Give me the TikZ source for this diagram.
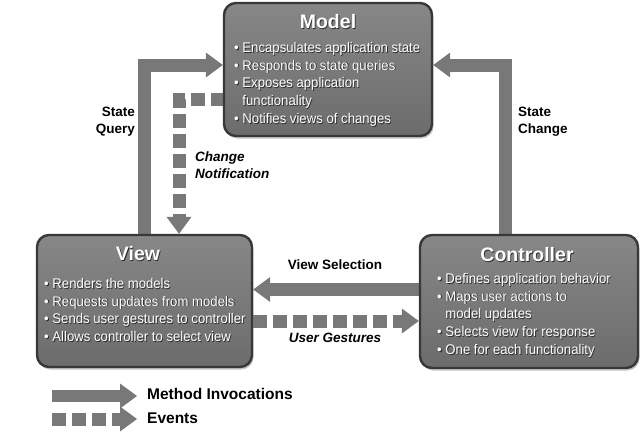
\documentclass[tikz,border=0pt]{standalone}
\usepackage{fontspec}
\setmainfont{Liberation Sans}
\newfontfamily\boxfont[FakeStretch=0.94]{Liberation Sans}
\usetikzlibrary{arrows.meta,shadows}
\definecolor{boxtop}{HTML}{878787}
\definecolor{boxbot}{HTML}{6C6C6C}
\definecolor{boxline}{HTML}{383838}
\definecolor{arrowgray}{HTML}{787878}
\definecolor{txtshadow}{HTML}{2A2A2A}
\newcommand\shd[1]{\makebox[0pt][l]{\hspace{0.8pt}\raisebox{-0.8pt}{\color{txtshadow}#1}}#1}
\pgfdeclarelayer{bg}
\pgfsetlayers{bg,main}
\begin{document}
\begin{tikzpicture}[x=1pt,y=-1pt,
  box/.style={draw=boxline, line width=2.4pt, rounded corners=12pt,
    top color=boxtop, bottom color=boxbot,
    drop shadow={shadow xshift=1.5pt,shadow yshift=-2.5pt,fill=black!45}},
  titletext/.style={font=\fontsize{19.5}{22}\selectfont\bfseries, text=white, inner sep=0pt},
  bullets/.style={font=\fontsize{14}{17.8}\boxfont, text=white, align=left, anchor=north west, inner sep=0pt},
  lbl/.style={font=\fontsize{13.5}{17}\selectfont\bfseries, text=black, inner sep=0pt},
  ital/.style={font=\fontsize{13.5}{17}\selectfont\bfseries\itshape},
  legendtext/.style={font=\fontsize{15.5}{18}\selectfont\bfseries, text=black, inner sep=0pt, anchor=west},
  method/.style={draw=arrowgray, line width=13pt, line join=miter,
    -{Triangle[length=17pt,width=25pt,line width=0pt]}},
  event/.style={method, dash pattern=on 14pt off 6pt}
]
\useasboundingbox (0,0) rectangle (642,437);

% boxes
\node[box, minimum width=208pt, minimum height=133pt] (model) at (328,69.5) {};
\node[box, minimum width=215pt, minimum height=132pt] (view) at (144.5,301) {};
\node[box, minimum width=218pt, minimum height=133pt] (controller) at (529,301.5) {};

% titles
\node[titletext] (modelt) at (328,22) {\shd{Model}};
\node[titletext] (viewt) at (138,254) {\shd{View}};
\node[titletext] (controllert) at (527,255) {\shd{Controller}};

% bullet texts
\node[bullets] (modelb) at (234,42) {%
\shd{\textbullet\ Encapsulates application state}\\
\shd{\textbullet\ Responds to state queries}\\
\shd{\textbullet\ Exposes application}\\
\phantom{\textbullet\ }\shd{functionality}\\
\shd{\textbullet\ Notifies views of changes}};
\node[bullets] (viewb) at (44,278) {%
\shd{\textbullet\ Renders the models}\\
\shd{\textbullet\ Requests updates from models}\\
\shd{\textbullet\ Sends user gestures to controller}\\
\shd{\textbullet\ Allows controller to select view}};
\node[bullets] (controllerb) at (437,273) {%
\shd{\textbullet\ Defines application behavior}\\
\shd{\textbullet\ Maps user actions to}\\
\phantom{\textbullet\ }\shd{model updates}\\
\shd{\textbullet\ Selects view for response}\\
\shd{\textbullet\ One for each functionality}};

% helper coordinates
\coordinate (q) at (144,65);
\coordinate (c) at (505,65);
\coordinate (n) at (179,99.5);
\coordinate (s) at (0,289.5);
\coordinate (g) at (0,321);

% connectors
\begin{pgfonlayer}{bg}
\draw[method] (view.north -| q) |- (model.west |- q);
\draw[method] (controller.north -| c) |- (model.east |- c);
\draw[event, dash phase=2pt] (model.west |- n) -| (view.north -| n);
\draw[method] (controller.west |- s) -- (view.east |- s);
\draw[event] (view.east |- g) -- (controller.west |- g);
\end{pgfonlayer}

% labels
\node[lbl, align=right, anchor=east] (sq) at (135,121.5) {State\\Query};
\node[lbl, align=left, anchor=west] (sc) at (518,121.5) {State\\Change};
\node[lbl, ital, align=left, anchor=west] (cn) at (195,165.5) {Change\\Notification};
\node[lbl] (vs) at (335,265) {View Selection};
\node[lbl, ital] (ug) at (335,338) {User Gestures};

% legend
\node[legendtext] (mtext) at (147,394) {Method Invocations};
\node[legendtext] (etext) at (147,418) {Events};
\coordinate (m1) at (52,396);
\coordinate (e1) at (52,419);
\draw[method, line width=12pt] (m1) -- (m1 -| 137,0);
\draw[event] (e1) -- (e1 -| 137,0);
\end{tikzpicture}
\end{document}
